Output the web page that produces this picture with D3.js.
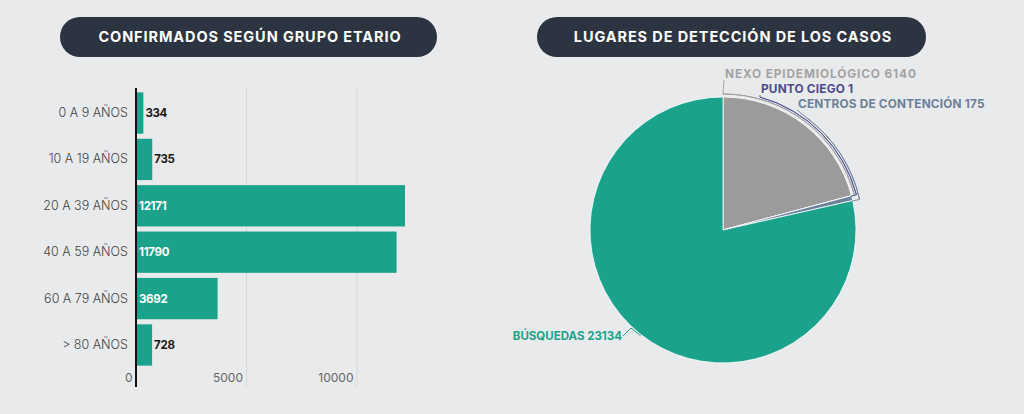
<!DOCTYPE html>
<html><head><meta charset="utf-8">
<script src="https://cdn.jsdelivr.net/npm/d3@7"></script>
<style>
html,body{margin:0;padding:0;background:#e9eaeb;}
svg{display:block;font-family:Inter,"Open Sans",sans-serif;}
</style></head>
<body>
<svg id="c" width="1024" height="414"></svg>
<script>
// ---- data ----
const ageGroups = ["0 A 9 AÑOS","10 A 19 AÑOS","20 A 39 AÑOS","40 A 59 AÑOS","60 A 79 AÑOS","> 80 AÑOS"];
const ageValues = [334, 735, 12171, 11790, 3692, 728];
const xTicks = [0, 5000, 10000];

const places = ["NEXO EPIDEMIOLÓGICO","PUNTO CIEGO","CENTROS DE CONTENCIÓN","BÚSQUEDAS"];
const placeValues = [6140, 1, 175, 23134];
const placeColors = ["#9b9b9b","#4b4b8f","#6b8099","#1aa38a"];
const labelColors = ["#a3a3a3","#4b4b8f","#6b8099","#1aa38a"];

const titles = ["CONFIRMADOS SEGÚN GRUPO ETARIO","LUGARES DE DETECCIÓN DE LOS CASOS"];

const svg = d3.select("#c");
const TEAL = "#1aa38a";

// ---- title pills ----
const pills = [{x:60,w:377,cx:250},{x:537,w:389,cx:733}];
pills.forEach((p,i)=>{
  svg.append("rect").attr("x",p.x).attr("y",17).attr("width",p.w).attr("height",40)
    .attr("rx",20).attr("fill","#2d3441");
  svg.append("text").attr("x",p.cx).attr("y",37).attr("dy","0.36em")
    .attr("text-anchor","middle").attr("fill","#fff").attr("font-weight",700)
    .attr("font-size",14.5).attr("letter-spacing",0.9).text(titles[i]);
});

// ---- bar chart ----
const x = d3.scaleLinear().domain([0,10000]).range([136,357]);
const y = d3.scaleBand().domain(ageGroups).range([91,367]).paddingInner(0.11).paddingOuter(0.03);

const g = svg.append("g");
// gridlines
g.selectAll("line.grid").data(xTicks.slice(1)).join("line")
  .attr("x1",d=>x(d)).attr("x2",d=>x(d)).attr("y1",88).attr("y2",387)
  .attr("stroke","#d6d7d9").attr("stroke-width",1);

// x axis labels
const xAxis = d3.axisBottom(x).tickValues(xTicks).tickFormat(d3.format("d")).tickSize(0).tickPadding(0);
const xa = g.append("g").attr("transform","translate(0,375)").call(xAxis);
xa.select(".domain").remove();
xa.selectAll("text").attr("text-anchor","end").attr("dx",-4).attr("dy","0.6em")
  .attr("font-family","Inter,'Open Sans',sans-serif").attr("font-size",12).attr("fill","#666");

// bars
g.selectAll("rect.bar").data(ageValues).join("rect")
  .attr("x",x(0)).attr("y",(d,i)=>y(ageGroups[i]))
  .attr("width",d=>x(d)-x(0)).attr("height",y.bandwidth()).attr("fill",TEAL);

// y axis
const yAxis = d3.axisLeft(y).tickSize(0).tickPadding(8);
const ya = g.append("g").attr("transform",`translate(${x(0)},0)`).call(yAxis);
ya.select(".domain").remove();
ya.selectAll("text").attr("font-family","Inter,'Open Sans',sans-serif").attr("font-size",12.5)
  .attr("font-weight",300).attr("fill","#444");
g.append("line").attr("x1",x(0)).attr("x2",x(0)).attr("y1",88).attr("y2",387)
  .attr("stroke","#111").attr("stroke-width",2);

// value labels
g.selectAll("text.val").data(ageValues).join("text")
  .attr("x",d=> d>2000 ? x(0)+3 : x(d)+2)
  .attr("y",(d,i)=>y(ageGroups[i])+y.bandwidth()/2)
  .attr("dy","0.35em").attr("font-size",11.5).attr("font-weight",700)
  .attr("fill",d=> d>2000 ? "#fff" : "#1a1a1a").attr("letter-spacing",-0.3)
  .text(d=>d);

// ---- pie chart ----
const cx = 723, cy = 230, R = 133;
const pie = d3.pie().sort(null).value(d=>d)(placeValues);
const arc = d3.arc().innerRadius(0).outerRadius(R);
const pg = svg.append("g").attr("transform",`translate(${cx},${cy})`);
pg.selectAll("path.slice").data(pie).join("path")
  .attr("d",arc).attr("fill",(d,i)=>placeColors[i])
  .attr("stroke","#fff").attr("stroke-width",0.8);

function pt(r,a){return [r*Math.sin(a), -r*Math.cos(a)];}
const deg = Math.PI/180;

// brackets along the outer rim, ending at each slice's end angle
const brackets = [
  {i:0, dr:3, a0:0},
  {i:1, dr:5, a0:15.5},
  {i:2, dr:7, a0:37}
];
brackets.forEach(b=>{
  const s = pie[b.i];
  const r = R + b.dr;
  const a0 = b.a0*deg, a1 = s.endAngle + 0.003;
  const ba = d3.arc().innerRadius(r).outerRadius(r).startAngle(a0).endAngle(a1);
  pg.append("path").attr("d",ba()).attr("fill","none")
    .attr("stroke",placeColors[b.i]).attr("stroke-width",1).attr("opacity",0.85);
  const e1 = pt(r,a1), e2 = pt(R-1,a1);
  pg.append("line").attr("x1",e1[0]).attr("y1",e1[1]).attr("x2",e2[0]).attr("y2",e2[1])
    .attr("stroke",placeColors[b.i]).attr("stroke-width",1).attr("opacity",0.85);
});

// labels for the three upper slices
const labelDefs = [
  {i:0, lx:724, ly:74, ax:0, ar:R+3, ls:0.9},
  {i:1, lx:760, ly:89, ax:15.5, ar:R+5, ls:0.2},
  {i:2, lx:797, ly:104, ax:37, ar:R+7, ls:0.2}
];
labelDefs.forEach(l=>{
  const p = pt(l.ar, l.ax*deg);
  pg.append("line").attr("x1",p[0]).attr("y1",p[1])
    .attr("x2",l.lx-cx).attr("y2",l.ly-cy+6)
    .attr("stroke",placeColors[l.i]).attr("stroke-width",1).attr("opacity",0.85);
  svg.append("text").attr("x",l.lx+1).attr("y",l.ly).attr("dy","0.35em")
    .attr("font-size",11.8).attr("font-weight",700).attr("fill",labelColors[l.i])
    .attr("letter-spacing",l.ls)
    .text(places[l.i]+" "+placeValues[l.i]);
});

// búsquedas label with a small "^" leader
{
  const a = 218*deg;
  const e = pt(R+1,a);
  const lx = 623-cx, ly = 336-cy;
  pg.append("path").attr("d",`M${lx},${ly}L${lx+8},${ly-8}L${e[0]},${e[1]}`)
    .attr("fill","none").attr("stroke",TEAL).attr("stroke-width",1);
  svg.append("text").attr("x",622).attr("y",336).attr("dy","0.35em").attr("text-anchor","end")
    .attr("font-size",11.5).attr("font-weight",700).attr("fill",TEAL).attr("letter-spacing",0)
    .text(places[3]+" "+placeValues[3]);
}
</script>
</body></html>
